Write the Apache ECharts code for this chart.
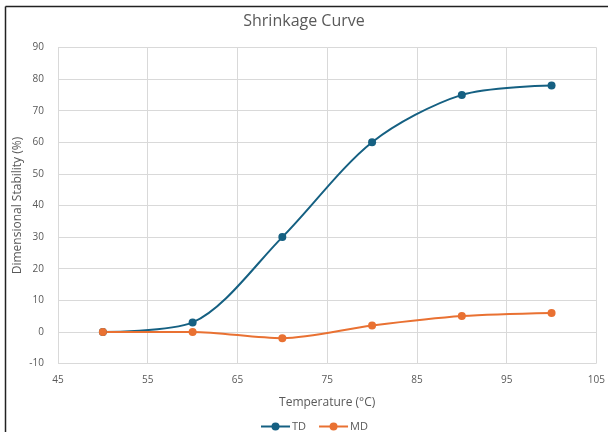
<!DOCTYPE html>
<html>
<head>
<meta charset="utf-8">
<script src="https://cdn.jsdelivr.net/npm/echarts@6/dist/echarts.min.js"></script>
<style>html,body{margin:0;padding:0;background:#fff}#c{width:608px;height:432px}</style>
</head>
<body>
<div id="c"></div>
<script>
const temperatures = [50, 60, 70, 80, 90, 100];
const tdValues = [0, 3, 30, 60, 75, 78];
const mdValues = [0, 0, -2, 2, 5, 6];
const xTicks = [45, 55, 65, 75, 85, 95, 105];
const yTicks = [-10, 0, 10, 20, 30, 40, 50, 60, 70, 80, 90];

const font = '"Open Sans", "Noto Sans", sans-serif';
const chart = echarts.init(document.getElementById('c'), null, {renderer: 'canvas'});
const pair = (xs, ys) => xs.map((x, i) => [x, ys[i]]);
chart.setOption({
  animation: false,
  textStyle: {fontFamily: font},
  title: {
    text: 'Shrinkage Curve', left: 'center', top: 8,
    textStyle: {fontFamily: font, fontSize: 16, fontWeight: 'normal', color: '#595959'}
  },
  graphic: [
    {type: 'line', shape: {x1: 5.5, y1: 6.5, x2: 608, y2: 6.5}, style: {stroke: '#222', lineWidth: 1.5}},
    {type: 'line', shape: {x1: 5.5, y1: 6.5, x2: 5.5, y2: 432}, style: {stroke: '#222', lineWidth: 1.5}}
  ],
  grid: {left: 58, right: 10, top: 47.5, bottom: 68.5, containLabel: false},
  legend: {
    top: 416, left: 255, itemWidth: 29, itemHeight: 10, itemGap: 12,
    textStyle: {fontFamily: font, fontSize: 11, color: '#595959', padding: [0, 0, 0, -3]},
    data: ['TD', 'MD']
  },
  xAxis: {
    type: 'value', min: xTicks[0], max: xTicks[xTicks.length - 1], interval: 10,
    name: 'Temperature (°C)', nameLocation: 'middle', nameGap: 33, nameMoveOverlap: false,
    nameTextStyle: {fontFamily: font, fontSize: 12, color: '#595959'},
    axisLine: {show: false}, axisTick: {show: false},
    axisLabel: {fontFamily: font, fontSize: 10, color: '#595959', margin: 12},
    splitLine: {show: true, lineStyle: {color: '#d9d9d9', width: 1}}
  },
  yAxis: {
    type: 'value', min: yTicks[0], max: yTicks[yTicks.length - 1], interval: 10,
    name: 'Dimensional Stability (%)', nameLocation: 'middle', nameGap: 34, nameMoveOverlap: false,
    nameTextStyle: {fontFamily: font, fontSize: 12, color: '#595959'},
    axisLine: {show: false}, axisTick: {show: false},
    axisLabel: {fontFamily: font, fontSize: 10, color: '#595959', margin: 14},
    splitLine: {show: true, lineStyle: {color: '#d9d9d9', width: 1}}
  },
  series: [
    {
      name: 'TD', type: 'line', data: pair(temperatures, tdValues), smooth: 0.3,
      symbol: 'circle', symbolSize: 8,
      lineStyle: {color: '#156082', width: 2}, itemStyle: {color: '#156082'}
    },
    {
      name: 'MD', type: 'line', data: pair(temperatures, mdValues), smooth: 0.3,
      symbol: 'circle', symbolSize: 8,
      lineStyle: {color: '#e97132', width: 2}, itemStyle: {color: '#e97132'}
    }
  ]
});
</script>
</body>
</html>
